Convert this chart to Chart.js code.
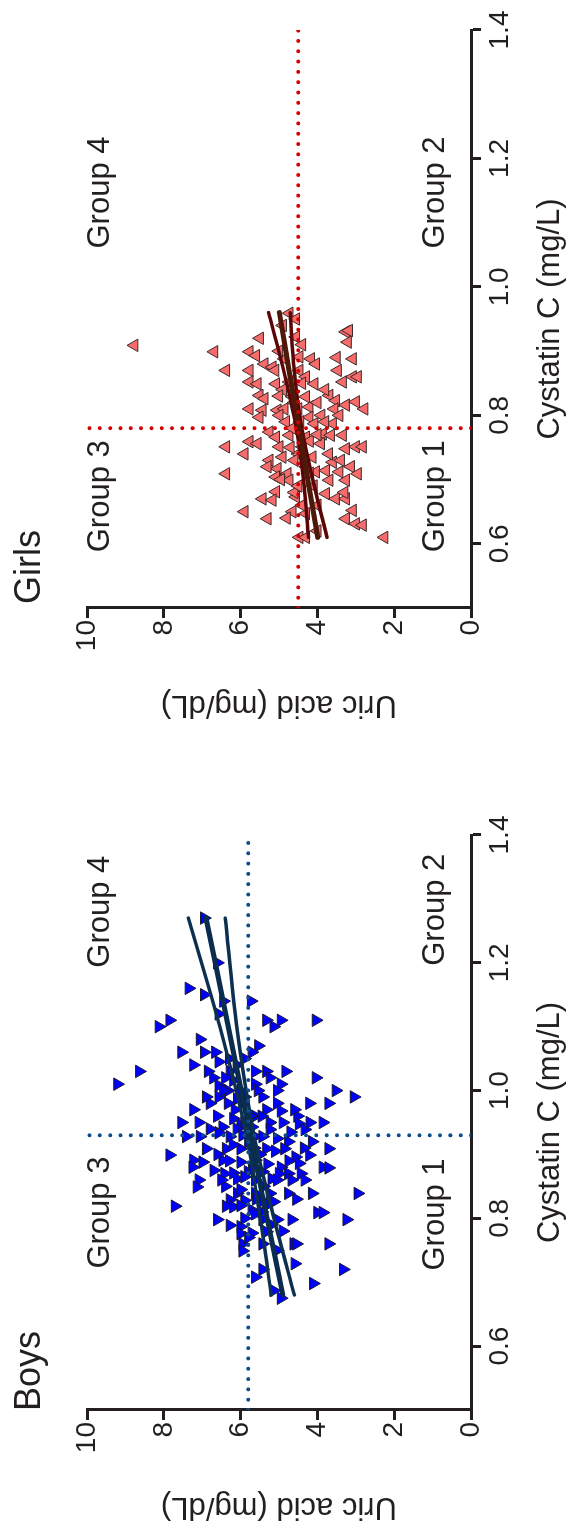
<!DOCTYPE html>
<html><head><meta charset="utf-8">
<script src="https://cdn.jsdelivr.net/npm/chart.js@4.4.1/dist/chart.umd.min.js"></script>
<style>
html,body{margin:0;padding:0;background:#fff;overflow:hidden;width:573px;height:1529px;}
#wrap{position:absolute;left:0;top:0;width:1529px;height:573px;transform-origin:0 0;transform:translate(0,1529px) rotate(-90deg);background:#fff;}
#boys{position:absolute;left:0;top:0;}
#girls{position:absolute;left:780px;top:0;}
</style></head>
<body><div id="wrap"><canvas id="boys" width="780" height="573"></canvas><canvas id="girls" width="749" height="573"></canvas></div>
<script>
// ---- axis ticks ----
const X_TICKS = [0.6, 0.8, 1.0, 1.2, 1.4];
const Y_TICKS = [0, 2, 4, 6, 8, 10];
const X_MIN = 0.5, X_MAX = 1.4, Y_MIN = 0, Y_MAX = 10;

// ---- Boys scatter: cystatin C (mg/L) and uric acid (mg/dL) ----
const BOYS_CYS = [1.27,1.20,1.16,1.15,1.14,1.14,1.12,1.10,1.11,1.11,1.10,1.11,1.11,1.08,1.07,1.06,1.06,1.06,1.06,1.045,
1.04,1.03,1.01,1.03,1.03,1.03,1.03,1.03,1.02,1.016,1.01,1.02,1.01,1.02,1.008,1.0,1.0,1.0,1.0,0.99,
0.99,0.99,0.987,0.97,0.98,0.98,0.98,0.97,0.98,0.968,0.98,0.98,0.96,0.956,0.96,0.95,0.95,0.96,0.948,0.95,
0.95,0.95,0.946,0.943,0.943,0.939,0.939,0.928,0.928,0.934,0.928,0.928,0.928,0.92,0.92,0.909,0.909,0.909,0.909,0.909,
0.909,0.899,0.891,0.888,0.891,0.888,0.891,0.88,0.896,0.886,0.899,0.88,0.879,0.88,0.87,0.871,0.873,0.873,0.862,0.87,
0.87,0.86,0.86,0.849,0.862,0.86,0.86,0.86,0.839,0.839,0.839,0.839,0.839,0.839,0.829,0.828,0.827,0.826,0.819,0.819,
0.818,0.813,0.82,0.798,0.789,0.787,0.807,0.798,0.798,0.798,0.809,0.809,0.798,0.776,0.777,0.779,0.76,0.749,0.76,0.75,
0.76,0.76,0.76,0.72,0.729,0.72,0.708,0.687,0.675,0.698,
0.95,0.94,0.92,0.915,0.90,0.90,0.885,0.875,0.865,0.96,0.97,0.925,0.935,0.905,0.85,0.85,0.87,0.94,0.99,1.0,1.04,1.05,0.83,0.80,0.78,
1.0,0.96,0.93,0.91,0.89,0.88,0.86,0.845,0.83,0.82,0.97,0.95,0.91,0.89,0.99,1.02,1.05,0.81,0.79,0.77];
const BOYS_UA = [6.95,6.61,7.35,6.95,6.45,5.73,6.57,8.13,7.85,5.33,5.14,4.95,4.04,7.06,5.54,7.54,6.95,6.66,5.71,6.57,
7.23,8.64,9.21,6.85,6.28,5.62,5.33,4.83,6.71,6.19,5.62,5.24,4.95,4.04,6.57,6.33,6.0,5.05,3.52,3.05,
5.43,6.57,6.09,7.23,6.8,6.33,5.95,5.33,5.05,4.95,4.21,3.71,6.61,6.19,5.62,5.24,4.9,4.52,4.48,3.86,
7.54,7.09,6.0,6.47,5.71,5.24,4.33,7.42,7.06,6.57,6.28,5.62,5.43,4.76,4.14,3.71,6.9,6.38,6.0,5.33,
4.86,7.85,7.23,6.99,6.47,6.0,5.62,4.95,4.57,4.48,4.21,3.86,3.71,7.25,6.42,6.19,5.81,5.43,5.19,4.76,
4.43,4.33,7.09,7.14,6.09,5.62,5.05,4.67,6.09,5.62,5.24,4.76,4.14,2.95,6.28,5.9,5.43,5.14,7.71,6.38,
6.19,5.71,5.33,6.61,6.28,6.0,5.62,5.43,5.05,4.67,4.0,3.86,3.24,6.0,5.71,5.33,5.95,5.95,5.43,5.05,
4.62,4.55,3.71,5.43,4.59,3.33,5.62,5.14,4.95,4.11,
5.9,6.1,5.8,6.2,5.5,6.6,5.3,6.7,5.9,5.45,6.15,5.05,4.7,5.1,5.4,6.4,5.0,6.8,5.9,5.55,6.1,5.9,4.55,5.9,4.9,
6.45,5.75,5.95,5.65,6.3,5.7,6.5,6.0,5.6,6.0,4.6,4.2,4.35,4.75,6.9,6.4,6.3,5.45,5.2,5.8];

// ---- Girls scatter ----
const GIRLS_CYS = [0.959,0.95,0.922,0.93,0.914,0.899,0.899,0.893,0.88,0.875,0.888,0.891,0.888,0.88,0.888,0.87,0.87,0.87,0.87,0.852,
0.849,0.849,0.852,0.849,0.852,0.86,0.86,0.831,0.826,0.829,0.829,0.831,0.823,0.81,0.808,0.808,0.81,0.813,0.81,0.816,
0.821,0.81,0.797,0.8,0.797,0.8,0.79,0.787,0.787,0.774,0.766,0.769,0.766,0.771,0.769,0.769,0.751,0.759,0.756,0.751,
0.751,0.756,0.748,0.751,0.751,0.74,0.73,0.735,0.735,0.727,0.73,0.72,0.717,0.709,0.712,0.714,0.712,0.709,0.709,0.704,
0.699,0.699,0.699,0.681,0.67,0.668,0.673,0.678,0.67,0.67,0.65,0.639,0.65,0.647,0.639,0.652,0.631,0.629,0.61,0.61,
0.61,0.909,0.932,
0.84,0.82,0.79,0.78,0.76,0.74,0.72,0.69,0.66,0.80,0.86,0.90,0.84,0.70,0.68,0.62,
0.85,0.83,0.82,0.81,0.79,0.77,0.75,0.74,0.73,0.72,0.71,0.69,0.68,0.66,0.64,0.87,0.89,0.91,0.94,0.92];
const GIRLS_UA = [4.73,4.56,4.56,3.26,3.21,6.69,5.77,5.6,5.38,5.17,4.86,4.47,4.17,4.04,3.08,6.38,5.77,4.47,3.47,5.77,
5.56,5.08,4.73,4.08,3.34,3.08,2.95,5.51,5.38,4.65,4.3,3.69,3.52,5.77,5.43,5.04,4.86,4.21,3.56,3.26,
3.0,2.78,5.51,4.99,4.21,3.43,4.82,4.08,3.6,5.25,5.08,4.73,4.3,3.86,3.65,3.34,6.38,5.77,5.56,4.99,
4.39,3.91,3.26,3.0,2.82,5.9,5.25,4.91,4.13,3.6,3.39,3.13,5.04,4.78,4.04,3.78,3.43,2.95,6.38,5.08,
4.73,3.69,3.26,5.08,5.43,5.17,4.56,3.78,3.52,3.26,5.9,5.3,4.65,4.3,3.26,3.08,3.0,2.82,4.47,4.3,
2.26,8.77,3.18,
4.9,4.6,4.45,4.65,4.2,4.5,4.3,4.1,4.4,3.9,4.3,5.0,3.8,4.95,4.6,4.0,
4.4,5.0,4.0,4.5,3.8,4.0,4.7,3.7,4.6,5.3,4.2,4.5,3.3,4.0,4.8,5.1,3.5,4.4,4.9,5.5];

// ---- regression line and 95% band ----
const BOYS_FIT_X = [0.68, 0.80, 0.93, 1.10, 1.27];
const BOYS_FIT   = [4.90, 5.31, 5.75, 6.32, 6.90];
const BOYS_UPPER = [5.20, 5.49, 5.85, 6.54, 7.36];
const BOYS_LOWER = [4.60, 5.13, 5.65, 6.10, 6.40];
const GIRLS_FIT_X = [0.61, 0.70, 0.78, 0.87, 0.96];
const GIRLS_FIT   = [3.99, 4.25, 4.48, 4.74, 4.99];
const GIRLS_UPPER = [4.23, 4.36, 4.55, 4.88, 5.27];
const GIRLS_LOWER = [3.75, 4.12, 4.41, 4.60, 4.71];

// ---- cut-off values (dotted lines) ----
const BOYS_CUT = {cys: 0.93, ua: 5.8};
const GIRLS_CUT = {cys: 0.78, ua: 4.5};

// ---- quadrant labels ----
const GROUP_TEXT = ['Group 3', 'Group 4', 'Group 1', 'Group 2'];
const BOYS_GROUP_X = [0.809, 1.28, 0.806, 1.283];
const GIRLS_GROUP_X = [0.674, 1.147, 0.674, 1.147];
const GROUP_Y = [9.42, 9.42, 0.71, 0.71];

const FONT = '"Liberation Sans", Arial, Helvetica, sans-serif';
const TEXT = '#231f20';
const AXIS = '#231f20';
Chart.defaults.font.family = FONT;
Chart.defaults.color = TEXT;

const annot = {
  id: 'annot',
  afterDatasetsDraw(chart, args, o) {
    const {ctx, chartArea, scales: {x, y}} = chart;
    ctx.save();
    ctx.fillStyle = TEXT;
    ctx.font = '31px ' + FONT;
    ctx.textAlign = 'center';
    ctx.textBaseline = 'alphabetic';
    o.labels.forEach((t, i) => ctx.fillText(t, x.getPixelForValue(o.lx[i]), y.getPixelForValue(o.ly[i])));
    ctx.font = '36px ' + FONT;
    ctx.textAlign = 'left';
    ctx.fillText(o.title, chartArea.left + o.titleDx, o.titleY);
    ctx.restore();
  }
};

function pts(xs, ys) { return xs.map((v, i) => ({x: v, y: ys[i]})); }

function makeChart(id, cfg) {
  const lineDs = (data, color, w, order) => ({type: 'line', data, borderColor: color, borderWidth: w,
    pointRadius: 0, fill: false, tension: 0.3, order, borderCapStyle: 'round'});
  const dotDs = (data) => ({type: 'line', data, borderColor: cfg.dotColor, borderWidth: 4,
    borderDash: [0.01, 10.3], borderCapStyle: 'round', pointRadius: 0, fill: false, order: 1});
  return new Chart(document.getElementById(id), {
    type: 'scatter',
    data: {datasets: [
      {data: pts(cfg.cys, cfg.ua), pointStyle: 'triangle', rotation: cfg.rot, pointRadius: 7.2,
       backgroundColor: cfg.fill, borderColor: cfg.edge, borderWidth: 1, order: 4},
      lineDs(pts(cfg.fitX, cfg.upper), cfg.bandColor, 3.5, 3),
      lineDs(pts(cfg.fitX, cfg.lower), cfg.bandColor, 3.5, 3),
      lineDs(pts(cfg.fitX, cfg.fit), cfg.fitColor, 5, 2),
      dotDs([{x: X_MIN, y: cfg.cut.ua}, {x: X_MAX, y: cfg.cut.ua}]),
      dotDs([{x: cfg.cut.cys, y: Y_MIN}, {x: cfg.cut.cys, y: Y_MAX}])
    ]},
    options: {
      responsive: false, animation: false, devicePixelRatio: 1,
      layout: {padding: {top: 87, right: cfg.padRight, bottom: 0, left: cfg.padLeft}},
      plugins: {legend: {display: false}, tooltip: {enabled: false},
        annot: {labels: GROUP_TEXT, lx: cfg.groupX, ly: GROUP_Y, title: cfg.title, titleDx: cfg.titleDx, titleY: 40}},
      scales: {
        x: {type: 'linear', min: X_MIN, max: X_MAX, position: 'bottom',
          afterBuildTicks: s => { s.ticks = X_TICKS.map(v => ({value: v})); },
          afterFit: s => { s.height = 102; },
          border: {display: true, color: AXIS, width: 3},
          grid: {display: true, drawOnChartArea: false, drawTicks: true, tickLength: 10, tickWidth: 3, tickColor: AXIS, color: AXIS},
          ticks: {font: {size: 28}, color: TEXT, padding: 2, maxRotation: 0, autoSkip: false, callback: v => Number(v).toFixed(1)},
          title: {display: true, text: 'Cystatin C (mg/L)', font: {size: 31}, color: TEXT, padding: {top: 0, bottom: 4}}
        },
        y: {type: 'linear', min: Y_MIN, max: Y_MAX, position: 'left',
          afterBuildTicks: s => { s.ticks = Y_TICKS.map(v => ({value: v})); },
          afterFit: s => { s.width = 119; },
          border: {display: true, color: AXIS, width: 3},
          grid: {display: true, drawOnChartArea: false, drawTicks: true, tickLength: 10, tickWidth: 3, tickColor: AXIS, color: AXIS},
          ticks: {font: {size: 28}, color: TEXT, padding: 2, autoSkip: false},
          title: {display: true, text: 'Uric acid (mg/dL)', font: {size: 31}, color: TEXT, padding: {top: 4, bottom: 0}}
        }
      }
    },
    plugins: [annot]
  });
}

makeChart('boys', {cys: BOYS_CYS, ua: BOYS_UA, rot: 180, fill: '#0000ff', edge: '#1a1a2e',
  fitX: BOYS_FIT_X, fit: BOYS_FIT, upper: BOYS_UPPER, lower: BOYS_LOWER,
  fitColor: '#0a2d4d', bandColor: '#0b3050', dotColor: '#0b4c8c', cut: BOYS_CUT,
  groupX: BOYS_GROUP_X, title: 'Boys', titleDx: -1, padLeft: 0, padRight: 86});

makeChart('girls', {cys: GIRLS_CYS, ua: GIRLS_UA, rot: 0, fill: '#f76b6b', edge: '#3a2a2a',
  fitX: GIRLS_FIT_X, fit: GIRLS_FIT, upper: GIRLS_UPPER, lower: GIRLS_LOWER,
  fitColor: '#4d1a0a', bandColor: '#5a0606', dotColor: '#d60000', cut: GIRLS_CUT,
  groupX: GIRLS_GROUP_X, title: 'Girls', titleDx: 4, padLeft: 22, padRight: 30});
</script>
</body></html>
